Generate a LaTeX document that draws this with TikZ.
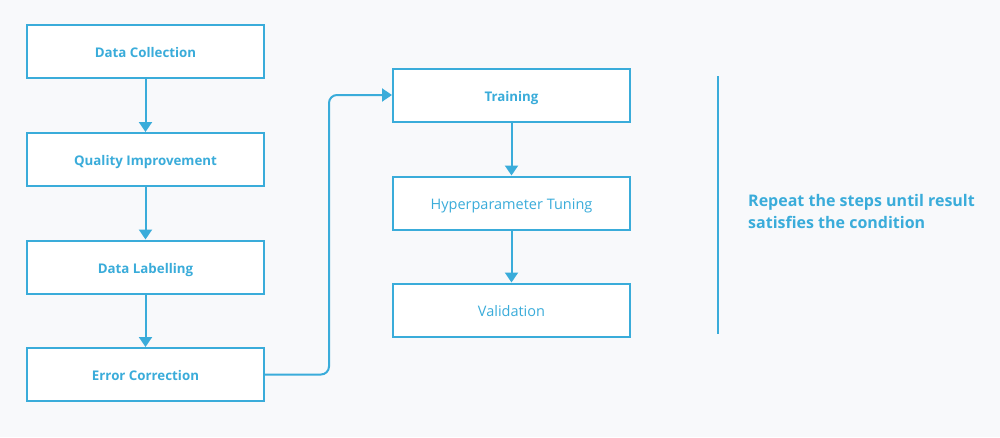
\documentclass[tikz,border=0pt]{standalone}
\usepackage{fontspec}
\setmainfont{Open Sans}
\newcommand\semib{\bfseries}
\usetikzlibrary{arrows.meta}
\definecolor{cblue}{HTML}{3AACDA}
\definecolor{bgc}{HTML}{F8F9FB}
\tikzset{
  stepbox/.style={draw=cblue, line width=2pt, fill=white, minimum width=237pt, minimum height=53pt, inner sep=0pt, text height=12pt, text depth=0pt, text=cblue, font=\fontsize{14.5}{16}\selectfont},
  boldtxt/.style={font=\fontsize{13.3}{16}\selectfont\semib},
  conn/.style={draw=cblue, line width=2pt, -{Triangle[length=10pt,width=13pt]}},
}
\begin{document}
\begin{tikzpicture}[x=1pt,y=-1pt]
\fill[bgc] (0,0) rectangle (1000,437);
\useasboundingbox (0,0) rectangle (1000,437);
\node[stepbox, boldtxt] (dc) at (145.5,51.5) {Data Collection};
\node[stepbox, boldtxt] (qi) at (145.5,159.5) {Quality Improvement};
\node[stepbox, boldtxt] (dl) at (145.5,267) {Data Labelling};
\node[stepbox, boldtxt] (ec) at (145.5,374.5) {Error Correction};
\node[stepbox, boldtxt] (tr) at (511.5,95) {Training};
\node[stepbox] (hp) at (511.5,203) {Hyperparameter Tuning};
\node[stepbox] (va) at (511.5,310) {Validation};
\draw[conn] (dc) -- (qi);
\draw[conn] (qi) -- (dl);
\draw[conn] (dl) -- (ec);
\draw[conn] (tr) -- (hp);
\draw[conn] (hp) -- (va);
\draw[conn, rounded corners=8pt] (ec.east) -- (329,374.5) -- (329,95) -- (tr.west);
\coordinate (lt) at (718,76);
\coordinate (lb) at (718,334);
\draw[cblue, line width=2pt] (lt) -- (lb);
\node[anchor=west, align=left, text=cblue, font=\fontsize{16}{22}\selectfont\semib, inner sep=0pt] (rep) at (748,211) {Repeat the steps until result\\satisfies the condition};
\end{tikzpicture}
\end{document}
